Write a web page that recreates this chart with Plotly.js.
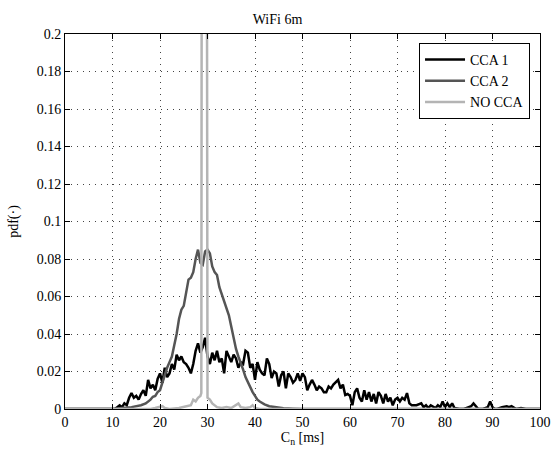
<!DOCTYPE html>
<html>
<head>
<meta charset="utf-8">
<script src="https://cdn.plot.ly/plotly-3.0.1.min.js"></script>
<style>html,body{margin:0;padding:0;background:#fff;}</style>
</head>
<body>
<div id="chart" style="width:555px;height:450px;"></div>
<script>
// CCA 1
const cca1X = [0,10,10.5,11,11.5,12,12.5,13,13.5,14,14.5,15,15.5,16,16.5,17,17.5,18,18.5,19,19.5,20,20.5,21,21.5,22,22.5,23,23.5,24,24.5,25,25.5,26,26.5,27,27.5,28,28.5,29,29.5,30,30.5,31,31.5,32,32.5,33,33.5,34,34.5,35,35.5,36,36.5,37,37.5,38,38.5,39,39.5,40,40.5,41,41.5,42,42.5,43,43.5,44,44.5,45,45.5,46,46.5,47,47.5,48,48.5,49,49.5,50,50.5,51,51.5,52,52.5,53,53.5,54,54.5,55,55.5,56,56.5,57,57.5,58,58.5,59,59.5,60,60.5,61,61.5,62,62.5,63,63.5,64,64.5,65,65.5,66,66.5,67,67.5,68,68.5,69,69.5,70,70.5,71,71.5,72,72.5,73,74,75,75.5,76,76.5,77,78,78.5,79,79.5,80,80.5,81,81.5,82,83,84,85,85.5,86,86.5,87,88,89,89.5,90,90.5,91,92,93,93.5,94,95,96,97,100];
const cca1Y = [0,0,0,0.001,0.002,0.001,0.003,0.002,0.006,0.0085,0.006,0.007,0.005,0.008,0.010,0.007,0.0155,0.011,0.013,0.010,0.016,0.019,0.014,0.022,0.017,0.019,0.024,0.021,0.029,0.026,0.028,0.025,0.024,0.022,0.019,0.024,0.031,0.035,0.030,0.033,0.038,0.028,0.024,0.030,0.026,0.031,0.025,0.027,0.019,0.031,0.028,0.025,0.029,0.027,0.022,0.025,0.024,0.031,0.030,0.022,0.024,0.0155,0.025,0.021,0.019,0.018,0.027,0.024,0.0165,0.020,0.019,0.012,0.018,0.020,0.011,0.019,0.017,0.014,0.0155,0.019,0.015,0.019,0.017,0.010,0.013,0.0155,0.013,0.010,0.012,0.011,0.009,0.009,0.012,0.011,0.013,0.014,0.0155,0.011,0.013,0.0075,0.008,0.007,0.002,0.009,0.011,0.006,0.004,0.010,0.005,0.009,0.004,0.008,0.003,0.009,0.007,0.003,0.008,0.004,0.006,0.002,0.005,0.006,0.004,0.006,0.005,0.0085,0.003,0.002,0.002,0.003,0.001,0.002,0.0005,0.002,0.0005,0.002,0.001,0.004,0.001,0.003,0.001,0.003,0.0005,0,0,0.001,0.0015,0.003,0.0015,0,0,0.001,0.004,0.001,0,0,0.001,0.0015,0.001,0.0015,0,0.0005,0,0];
// CCA 2
const cca2X = [0,10,12,14,16,17,18,18.5,19,19.5,20,20.5,21,21.5,22,22.5,23,23.5,24,24.5,25,25.5,26,26.5,27,27.5,28,28.5,29,29.5,30,30.5,31,31.5,32,32.5,33,33.5,34,34.5,35,35.5,36,36.5,37,37.5,38,38.5,39,39.5,40,40.5,41,42,43,44,45,46,48,50,100];
const cca2Y = [0,0,0.0005,0.001,0.002,0.003,0.005,0.0065,0.007,0.009,0.010,0.014,0.019,0.022,0.025,0.028,0.034,0.040,0.048,0.053,0.055,0.062,0.069,0.070,0.073,0.080,0.085,0.078,0.077,0.084,0.085,0.083,0.076,0.073,0.0715,0.065,0.061,0.058,0.053,0.050,0.044,0.037,0.032,0.028,0.025,0.021,0.017,0.014,0.011,0.009,0.007,0.005,0.004,0.0025,0.0015,0.001,0.0007,0.0004,0.0002,0,0];
// NO CCA
const nocX = [0,18,19,20,20.5,21,22,24,25,26,26.5,27,27.5,28,28.5,28.7,28.9,29.3,29.7,30,30.5,31,31.5,32,33,34,35,36,36.5,37,38,39,39.5,40,41,100];
const nocY = [0,0,0.0005,0.001,0.0015,0.0005,0,0.0005,0.001,0.0015,0.002,0.005,0.004,0.006,0.007,0.0085,0.6,0.35,0.6,0.006,0.005,0.003,0.002,0.001,0.0005,0.001,0.0005,0.002,0.003,0.001,0.0005,0.001,0.002,0.0005,0,0];

const names = ["CCA 1","CCA 2","NO CCA"];
const xTicks = [0,10,20,30,40,50,60,70,80,90,100];
const yTicks = [0,0.02,0.04,0.06,0.08,0.1,0.12,0.14,0.16,0.18,0.2];
const yTickText = ["0","0.02","0.04","0.06","0.08","0.1","0.12","0.14","0.16","0.18","0.2"];

const F = "'Liberation Serif', 'Times New Roman', Times, serif";
const traces = [
  {x: cca1X, y: cca1Y, name: names[0], mode: "lines", line: {color: "#000000", width: 2.5}},
  {x: cca2X, y: cca2Y, name: names[1], mode: "lines", line: {color: "#555555", width: 2.5}},
  {x: nocX, y: nocY, name: names[2], mode: "lines", line: {color: "#b4b4b4", width: 2.5}}
];
const axisCommon = {
  showline: true, linecolor: "#000", linewidth: 1, mirror: "ticks",
  ticks: "inside", ticklen: 5, tickcolor: "#000",
  showgrid: true, gridcolor: "#444", gridwidth: 1, griddash: "1px,5px",
  zeroline: false, tickfont: {family: F, size: 14, color: "#000"}
};
const layout = {
  width: 555, height: 450,
  margin: {l: 65, r: 15, t: 34, b: 41},
  paper_bgcolor: "#fff", plot_bgcolor: "#fff",
  font: {family: F, size: 14, color: "#000"},
  title: {text: "WiFi 6m", font: {family: F, size: 14, color: "#000"}, x: 0.5, xanchor: "center", y: 0.958, yanchor: "middle", yref: "container"},
  xaxis: Object.assign({}, axisCommon, {range: [0, 100], tickvals: xTicks, ticktext: xTicks.map(String),
    title: {text: "C<sub>n</sub> [ms]", font: {family: F, size: 14, color: "#000"}, standoff: 2}}),
  yaxis: Object.assign({}, axisCommon, {range: [0, 0.2], tickvals: yTicks, ticktext: yTickText,
    title: {text: "pdf(·)", font: {family: F, size: 14, color: "#000"}, standoff: 14}}),
  showlegend: true,
  legend: {x: 0.979, xanchor: "right", y: 0.976, yanchor: "top", bgcolor: "#fff", bordercolor: "#000", borderwidth: 1,
    font: {family: F, size: 14, color: "#000"}, tracegroupgap: 0, itemwidth: 40}
};
Plotly.newPlot("chart", traces, layout, {staticPlot: true, displayModeBar: false});
</script>
</body>
</html>
